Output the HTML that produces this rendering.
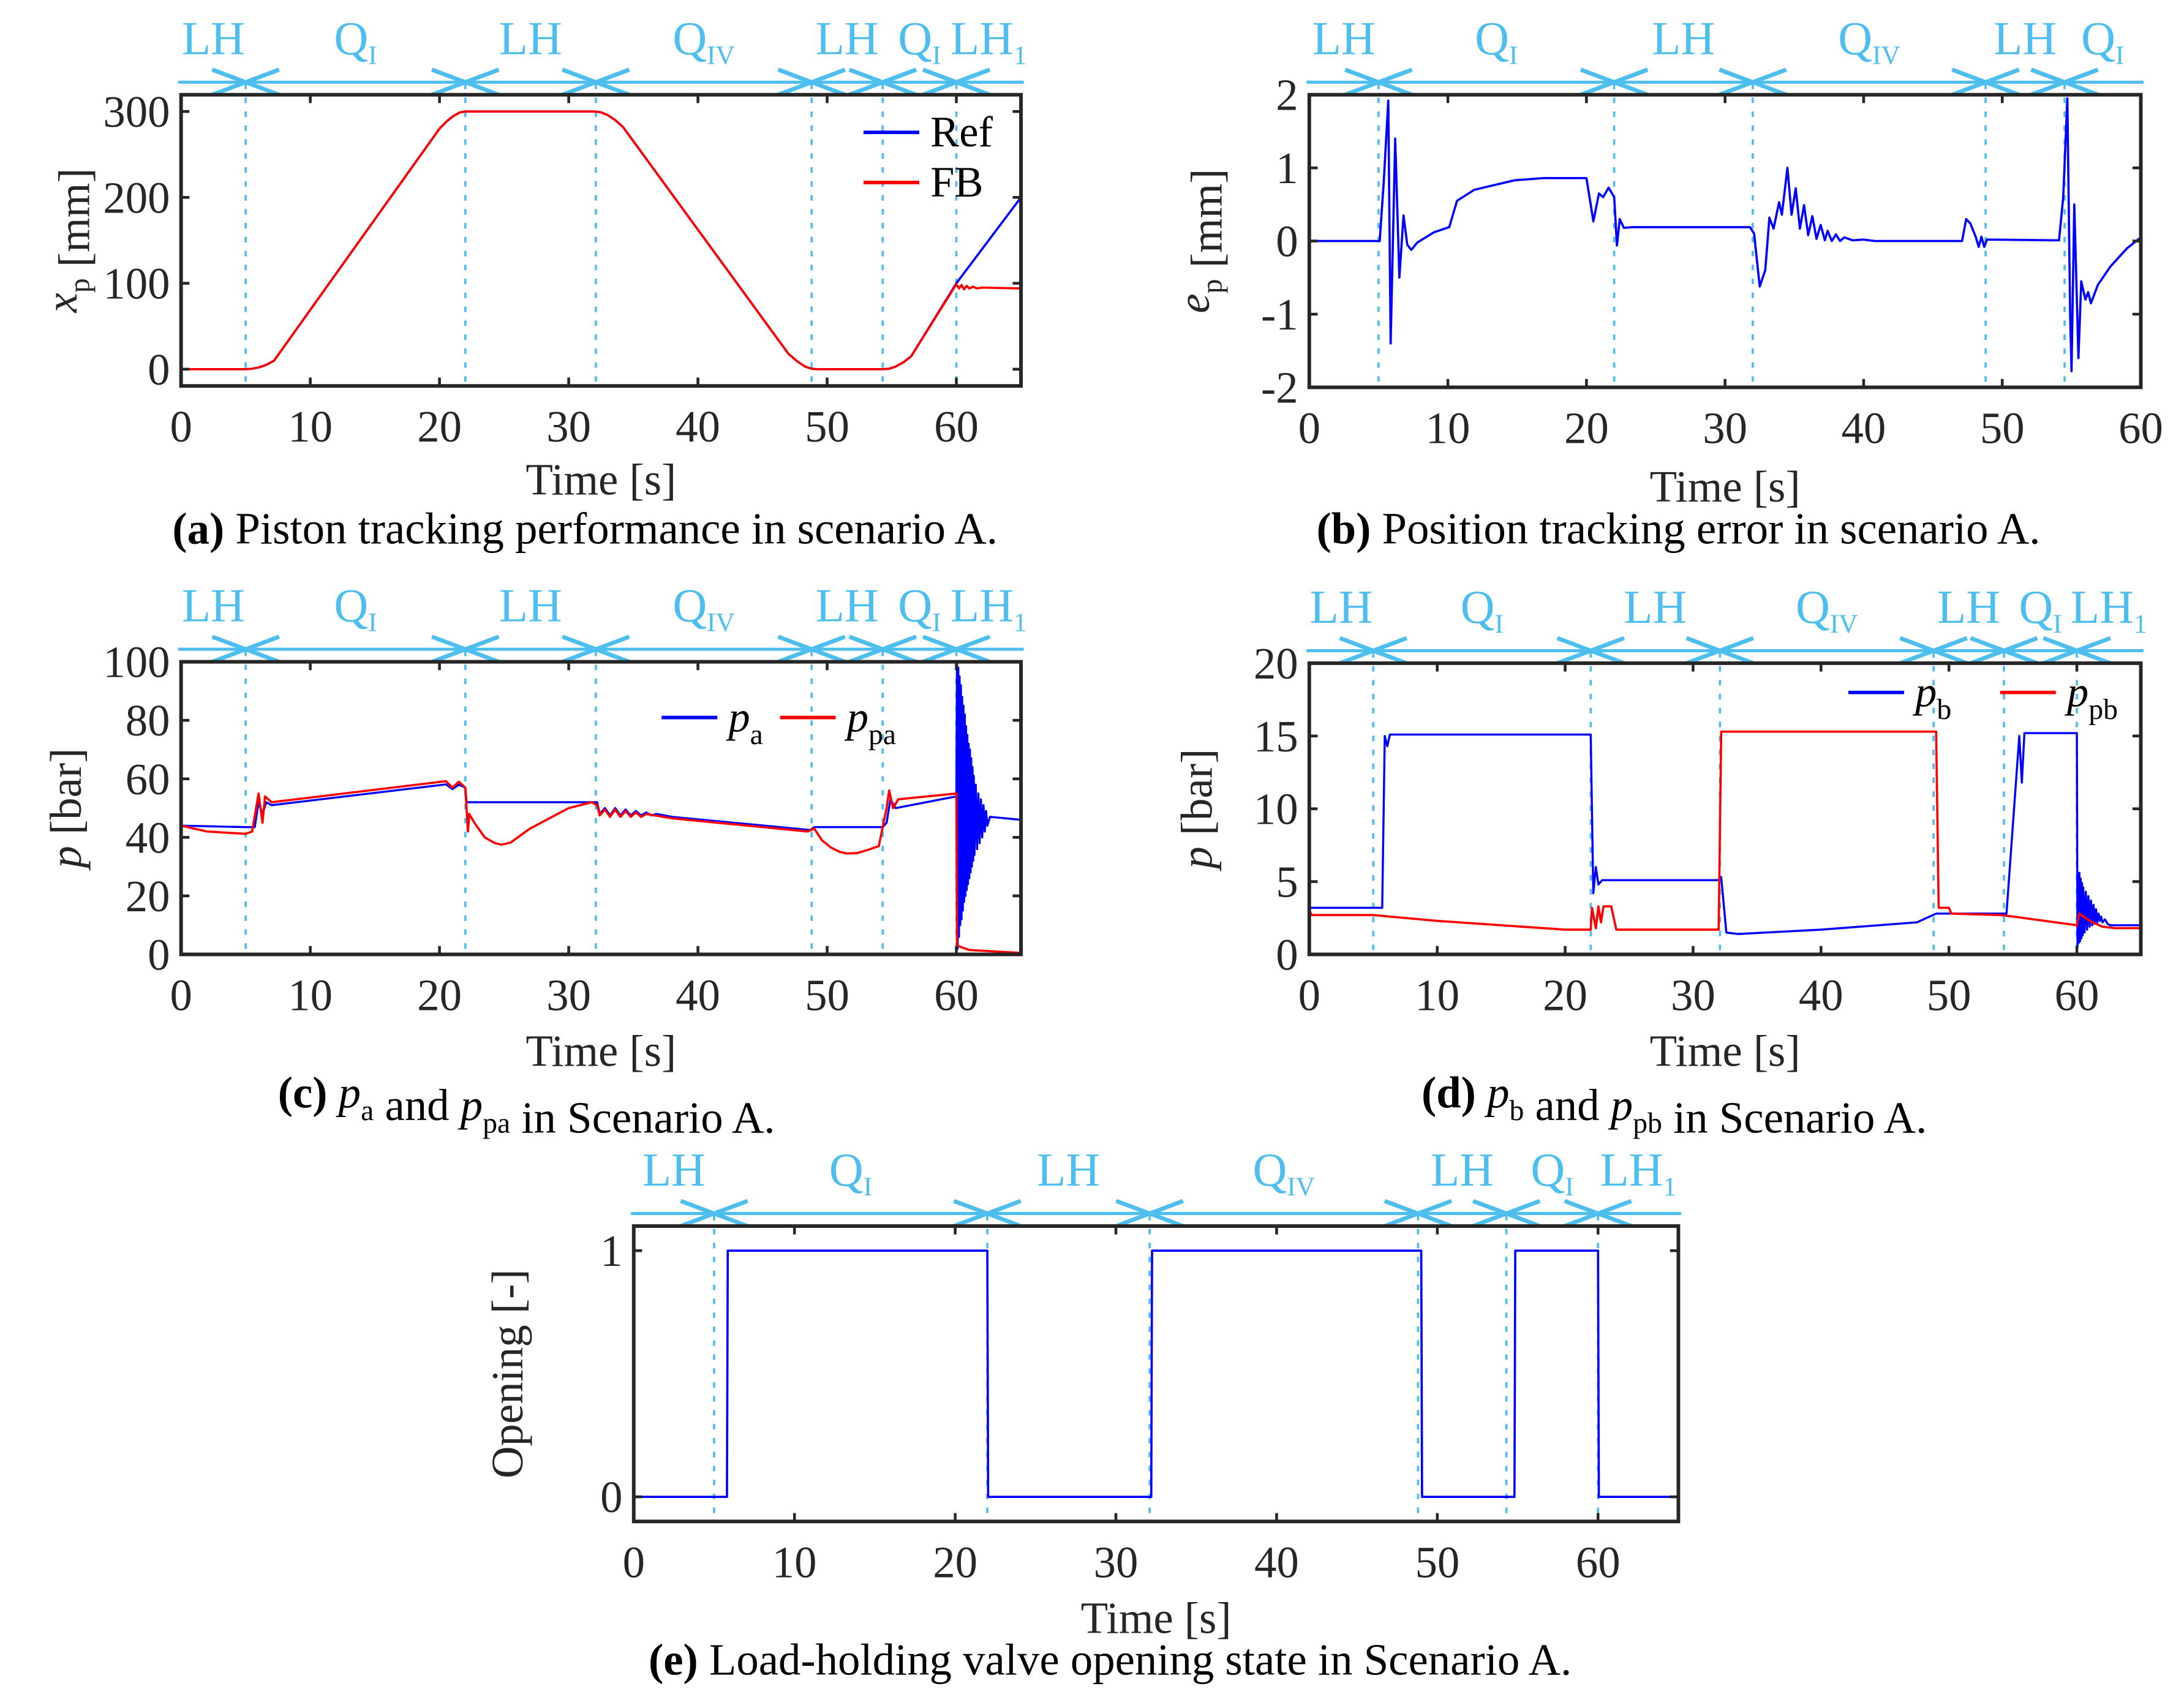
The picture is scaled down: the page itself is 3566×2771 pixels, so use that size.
<!DOCTYPE html>
<html><head><meta charset="utf-8"><style>
html,body{margin:0;padding:0;background:#fff;}
svg{display:block;}
text{font-family:"Liberation Serif",serif;}
</style></head><body>
<svg id="fig" xmlns="http://www.w3.org/2000/svg" width="3566" height="2771" viewBox="0 0 1568 1218" preserveAspectRatio="none"></svg>
<script>
// ---- shared phase data ----
var phaseTimes = [5, 22, 32.1, 48.8, 54.3, 60];
var phaseLabels = [["LH",""],["Q","I"],["LH",""],["Q","IV"],["LH",""],["Q","I"],["LH","1"]];
var phaseTimesB = [5, 22, 32, 48.8, 54.5];
var phaseLabelsB = [["LH",""],["Q","I"],["LH",""],["Q","IV"],["LH",""],["Q","I"]];

// ---- (a) piston position ----
var refT = [0,5,5.5,6,6.6,7.2,20,20.6,21.1,21.6,22,32,32.5,33,33.6,34.2,47,47.7,48.3,48.8,49.2,54.3,54.8,55.3,55.9,56.5,60,65];
var refV = [0,0,0.5,2,5,10,280,289,295,299,300,300,299,296,290,282,18,9,3,0.5,0,0,0.5,3,8,15,100,200];
var fbT = [0,5,5.5,6,6.6,7.2,20,20.6,21.1,21.6,22,32,32.5,33,33.6,34.2,47,47.7,48.3,48.8,49.2,54.3,54.8,55.3,55.9,56.5,60,60.2,60.4,60.6,60.8,61,61.3,61.6,62,65];
var fbV = [0,0,0.5,2,5,10,280,289,295,299,300,300,299,296,290,282,18,9,3,0.5,0,0,0.5,3,8,15,99,94,98,93,97,94,96,94,95,94];
var xTicksA = [0,10,20,30,40,50,60];
var yTicksA = [0,100,200,300];

// ---- (b) tracking error ----
var errT = [0,5.08,5.37,5.7,5.87,6.2,6.5,6.8,7.07,7.36,7.8,9.0,10.1,10.66,11.9,14.8,16.9,20.0,20.5,20.9,21.2,21.6,22.0,22.2,22.4,22.7,23.3,31.8,32.1,32.5,32.9,33.2,33.5,33.9,34.1,34.5,34.8,35.1,35.4,35.7,36.0,36.3,36.6,36.9,37.2,37.4,37.7,38.0,38.3,38.6,39.2,40,40.8,47.1,47.4,47.7,48.1,48.3,48.5,48.7,48.9,54.1,54.4,54.7,54.9,55.0,55.2,55.5,55.7,56.0,56.2,56.4,56.9,57.8,59.0,60];
var errV = [0,0,0.8,1.92,-1.4,1.4,-0.5,0.35,-0.05,-0.12,-0.02,0.12,0.19,0.55,0.7,0.83,0.86,0.86,0.27,0.65,0.6,0.73,0.6,-0.06,0.3,0.18,0.19,0.19,0.1,-0.62,-0.4,0.32,0.17,0.53,0.36,1.0,0.36,0.72,0.17,0.49,0.08,0.34,0.03,0.22,0.01,0.14,0,0.09,0,0.05,0.01,0.02,0,0,0.3,0.24,0.05,-0.08,0.06,-0.08,0.02,0.01,0.6,1.95,-1.0,-1.78,0.5,-1.6,-0.55,-0.8,-0.7,-0.85,-0.6,-0.35,-0.1,0.05];
var xTicksB = [0,10,20,30,40,50,60];
var yTicksB = [-2,-1,0,1,2];

// ---- (c) p_a, p_pa ----
var paT = [0,5,5.7,6.0,6.3,6.6,7,20.5,21,21.5,22,22.1,22.5,32.2,32.4,32.8,33.2,33.6,34,34.4,34.8,35.2,35.6,36,36.4,36.8,38,48.7,49,54.3,54.6,54.9,55.3,60,
 60.05,60.1,60.15,60.2,60.25,60.3,60.35,60.4,60.45,60.5,60.55,60.6,60.65,60.7,60.75,60.8,60.85,60.9,60.95,61,61.05,61.1,61.15,61.2,61.25,61.3,61.35,61.4,61.5,61.6,61.7,61.8,61.9,62,62.1,62.2,62.3,62.4,62.6,65];
var paV = [44,43.5,43.5,52,48,52,51,58.1,56.5,58,57,52,52,52,48,50,47.5,50,47.5,49.5,47.5,49,47.5,48.5,47.5,48,47,42.5,43.5,43.5,45,53,50,54,
 100,2,98,6,95,10,92,12,88,15,85,18,82,20,78,22,75,24,72,26,70,28,67,30,64,32,61,34,58,36,55,38,53,40,51,42,49,44,47,46];
var ppaT = [0,2,5,5.5,6.0,6.3,6.5,7,20.5,21,21.5,22,22.2,22.3,22.7,23.5,24.3,24.8,25.5,27,30,31.8,32.2,32.4,32.8,33.2,33.6,34,34.4,34.8,35.2,35.6,36,38,48.5,49,49.6,50.3,51,51.5,52.3,53,54,54.6,54.8,55.1,55.5,60,60.05,61,65];
var ppaV = [44,42,41.2,42,55,45,54,52,59.2,57,59,57,42,48,45,40,38,37.5,38.2,43,50,52,51,47.5,49.5,47,49.5,47,49,47,48.5,47,48,46.5,42,43,39,36.5,35,34.5,34.6,35.5,37,50,56,50,53,55,3,1.5,0.5];
var xTicksC = [0,10,20,30,40,50,60];
var yTicksC = [0,20,40,60,80,100];

// ---- (d) p_b, p_pb ----
var pbT = [0,5.7,5.9,6.1,6.3,22,22.2,22.4,22.6,22.9,32,32.2,32.6,33.5,40,47.5,48.5,49,54.5,55.5,55.7,55.9,60,
 60.05,60.1,60.15,60.2,60.25,60.3,60.35,60.4,60.45,60.5,60.6,60.7,60.8,60.9,61,61.1,61.2,61.3,61.4,61.5,61.6,61.7,61.8,61.9,62,62.2,62.4,62.6,65];
var pbV = [3.2,3.2,15,14.3,15.1,15.1,4.2,6,4.8,5.1,5.1,5.3,1.5,1.4,1.7,2.2,2.6,2.8,2.8,15,11.8,15.2,15.2,
 0.5,5.3,0.8,5.6,0.9,5.2,1.1,4.9,1.3,4.6,1.5,4.3,1.7,4.0,1.9,3.7,2.0,3.4,2.1,3.1,2.2,2.8,2.3,2.6,2.2,2.4,2.1,2.0,2.0];
var ppbT = [0,0.2,5,10,15,20,22,22.1,22.4,22.6,22.8,23,23.6,24,32,32.2,49,49.2,50,50.2,54,55,60,60.2,61,62,63,65];
var ppbV = [3.0,2.7,2.7,2.3,2.0,1.7,1.7,3.2,1.8,3.3,2.2,3.3,3.3,1.7,1.7,15.3,15.3,3.2,3.2,2.8,2.7,2.6,2.0,2.8,2.3,1.9,1.8,1.8];
var xTicksD = [0,10,20,30,40,50,60];
var yTicksD = [0,5,10,15,20];

// ---- (e) opening ----
var opT = [0,5.8,5.85,22,22.05,32.2,32.25,49,49.05,54.8,54.85,60,60.05,65];
var opV = [0,0,1,1,0,0,1,1,0,0,1,1,0,0];
var xTicksE = [0,10,20,30,40,50,60];
var yTicksE = [0,1];

var NS = "http://www.w3.org/2000/svg";
var svg = document.getElementById('fig');
function mk(tag, attrs, parent){
  var e = document.createElementNS(NS, tag);
  for (var k in attrs) e.setAttribute(k, attrs[k]);
  (parent||svg).appendChild(e);
  return e;
}
var AX = "#262626", PH = "#4DBEEE";

function makePanel(p){
  var g = mk('g', {});
  
  
  p.g = g;
  p.sx = function(t){ return p.x0 + (t - p.xmin) / (p.xmax - p.xmin) * (p.x1 - p.x0); };
  p.sy = function(v){ return p.y1 - (v - p.ymin) / (p.ymax - p.ymin) * (p.y1 - p.y0); };
  return p;
}
function drawPhases(p, times, labels){
  var g = mk('g', {}, p.g);
  
  
  var ay = p.y0 - 9;
  var line = mk('line', {x1:p.x0-2, x2:p.x1+2, y1:ay, y2:ay, stroke:PH, 'stroke-width':2.2}, g);
  
  
  var bounds = [p.x0];
  times.forEach(function(t){
    var x = p.sx(t);
    bounds.push(x);
    var dl = mk('line', {x1:x, x2:x, y1:p.y0-8, y2:p.y1, stroke:PH, 'stroke-width':1.6, 'stroke-dasharray':'4,6'}, g);
    
    
    var ah = mk('path', {d:'M'+(x-24)+','+(ay-9)+'L'+x+','+ay+'L'+(x-24)+','+(ay+9)+'M'+(x+24)+','+(ay-9)+'L'+x+','+ay+'L'+(x+24)+','+(ay+9),
      fill:'none', stroke:PH, 'stroke-width':3}, g);
    
    
  });
  bounds.push(p.x1);
  labels.forEach(function(l, i){
    var cx = (bounds[i] + bounds[i+1]) / 2;
    var t = mk('text', {x:cx, y:p.y0-29, 'text-anchor':'middle', 'font-size':34, fill:PH}, g);
    
    
    t.appendChild(document.createTextNode(l[0]));
    if (l[1]) {
      var s = mk('tspan', {'font-size':19, dy:7}, t);
      s.textContent = l[1];
    }
  });
}
function drawAxes(p, xt, yt, ylabelFn, xlabY){
  var g = mk('g', {}, p.g);
  
  
  xt.forEach(function(v){
    var x = p.sx(v);
    mk('line', {x1:x, x2:x, y1:p.y1, y2:p.y1-6, stroke:AX, 'stroke-width':2}, g);
    mk('line', {x1:x, x2:x, y1:p.y0, y2:p.y0+6, stroke:AX, 'stroke-width':2}, g);
    var t = mk('text', {x:x, y:p.y1+40, 'text-anchor':'middle', 'font-size':32, fill:AX}, g);
    
    
    t.textContent = v;
  });
  yt.forEach(function(v){
    var y = p.sy(v);
    mk('line', {x1:p.x0, x2:p.x0+6, y1:y, y2:y, stroke:AX, 'stroke-width':2}, g);
    mk('line', {x1:p.x1, x2:p.x1-6, y1:y, y2:y, stroke:AX, 'stroke-width':2}, g);
    var t = mk('text', {x:p.x0-8, y:y+11, 'text-anchor':'end', 'font-size':32, fill:AX}, g);
    
    
    t.textContent = v;
  });
  var xl = mk('text', {x:(p.x0+p.x1)/2, y:xlabY, 'text-anchor':'middle', 'font-size':32, fill:AX}, g);
  
  
  xl.textContent = 'Time [s]';
  var yl = mk('text', {transform:'translate('+p.ylx+','+((p.y0+p.y1)/2)+') rotate(-90)', 'text-anchor':'middle', 'font-size':32, fill:AX}, g);
  
  
  ylabelFn(yl);
}
function frame(p){
  var r = mk('rect', {x:p.x0, y:p.y0, width:p.x1-p.x0, height:p.y1-p.y0, fill:'none', stroke:AX, 'stroke-width':2.6}, p.g);
  
  
}
function series(p, T, V, color, name, w){
  var d = '';
  for (var i=0;i<T.length;i++){
    var v = Math.max(p.ymin, Math.min(p.ymax, V[i]));
    d += (i?'L':'M') + p.sx(T[i]).toFixed(2) + ',' + p.sy(v).toFixed(2);
  }
  var path = mk('path', {d:d, fill:'none', stroke:color, 'stroke-width':w||1.6, 'stroke-linejoin':'round'}, p.g);
  
  
}
function legendEntry(p, x, y, color, build, name){
  var g = mk('g', {}, p.g);
  
  
  mk('line', {x1:x, x2:x+40, y1:y, y2:y, stroke:color, 'stroke-width':2.5}, g);
  var t = mk('text', {x:x+48, y:y+10, 'font-size':31, fill:'#000'}, g);
  build(t);
}
function sub(t, main, s, italic){
  var a = mk('tspan', italic?{'font-style':'italic'}:{}, t); a.textContent = main;
  var b = mk('tspan', {'font-size':21, dy:9}, t); b.textContent = s;
  var c = mk('tspan', {dy:-9}, t); c.textContent = '';
}
function caption(x, y, label, build, name){
  var t = mk('text', {x:x, y:y, 'text-anchor':'middle', 'font-size':32, fill:'#000'});
  
  
  var b = mk('tspan', {'font-weight':'bold'}, t); b.textContent = label + ' ';
  build(t);
}

// Panel (a)
var A = makePanel({name:'panel-a', x0:130, x1:733, y0:68, y1:277, xmin:0, xmax:65, ymin:-19.5, ymax:319.5, ylx:55});
drawPhases(A, phaseTimes, phaseLabels);
series(A, refT, refV, '#0000ff', 'series-ref', 1.6);
series(A, fbT, fbV, '#ff0000', 'series-fb', 1.6);
frame(A);
drawAxes(A, xTicksA, yTicksA, function(t){ sub(t,'x','p',true); var r=mk('tspan',{},t); r.textContent=' [mm]'; }, 355);
legendEntry(A, 620, 95, '#0000ff', function(t){ t.textContent='Ref'; }, 'legend-ref');
legendEntry(A, 620, 131, '#ff0000', function(t){ t.textContent='FB'; }, 'legend-fb');
caption(420, 390, '(a)', function(t){ var s=mk('tspan',{},t); s.textContent='Piston tracking performance in scenario A.'; }, 'caption-a');

// Panel (b)
var B = makePanel({name:'panel-b', x0:940, x1:1537, y0:68, y1:278, xmin:0, xmax:60, ymin:-2, ymax:2, ylx:868});
drawPhases(B, phaseTimesB, phaseLabelsB);
series(B, errT, errV, '#0000ff', 'series-error', 1.6);
frame(B);
drawAxes(B, xTicksB, yTicksB, function(t){ sub(t,'e','p',true); var r=mk('tspan',{},t); r.textContent=' [mm]'; }, 360);
caption(1205, 390, '(b)', function(t){ var s=mk('tspan',{},t); s.textContent='Position tracking error in scenario A.'; }, 'caption-b');

// Panel (c)
var C = makePanel({name:'panel-c', x0:130, x1:733, y0:475, y1:685, xmin:0, xmax:65, ymin:0, ymax:100, ylx:58});
drawPhases(C, phaseTimes, phaseLabels);
series(C, paT, paV, '#0000ff', 'series-pa', 1.5);
series(C, ppaT, ppaV, '#ff0000', 'series-ppa', 1.6);
frame(C);
drawAxes(C, xTicksC, yTicksC, function(t){ var a=mk('tspan',{'font-style':'italic'},t); a.textContent='p'; var r=mk('tspan',{},t); r.textContent=' [bar]'; }, 765);
legendEntry(C, 475, 515, '#0000ff', function(t){ sub(t,'p','a',true); }, 'legend-pa');
legendEntry(C, 560, 515, '#ff0000', function(t){ sub(t,'p','pa',true); }, 'legend-ppa');
caption(378, 795, '(c)', function(t){ sub(t,'p','a',true); var r=mk('tspan',{},t); r.textContent=' and '; sub(t,'p','pa',true); var q=mk('tspan',{},t); q.textContent=' in Scenario A.'; }, 'caption-c');

// Panel (d)
var D = makePanel({name:'panel-d', x0:940, x1:1537, y0:476, y1:685, xmin:0, xmax:65, ymin:0, ymax:20, ylx:870});
drawPhases(D, phaseTimes, phaseLabels);
series(D, pbT, pbV, '#0000ff', 'series-pb', 1.5);
series(D, ppbT, ppbV, '#ff0000', 'series-ppb', 1.6);
frame(D);
drawAxes(D, xTicksD, yTicksD, function(t){ var a=mk('tspan',{'font-style':'italic'},t); a.textContent='p'; var r=mk('tspan',{},t); r.textContent=' [bar]'; }, 765);
legendEntry(D, 1327, 497, '#0000ff', function(t){ sub(t,'p','b',true); }, 'legend-pb');
legendEntry(D, 1436, 497, '#ff0000', function(t){ sub(t,'p','pb',true); }, 'legend-ppb');
caption(1202, 795, '(d)', function(t){ sub(t,'p','b',true); var r=mk('tspan',{},t); r.textContent=' and '; sub(t,'p','pb',true); var q=mk('tspan',{},t); q.textContent=' in Scenario A.'; }, 'caption-d');

// Panel (e)
var E = makePanel({name:'panel-e', x0:455, x1:1205, y0:880, y1:1092, xmin:0, xmax:65, ymin:-0.1, ymax:1.1, ylx:375});
drawPhases(E, phaseTimes, phaseLabels);
series(E, opT, opV, '#0000ff', 'series-opening', 1.6);
frame(E);
drawAxes(E, xTicksE, yTicksE, function(t){ t.textContent='Opening [-]'; }, 1172);
caption(797, 1202, '(e)', function(t){ var s=mk('tspan',{},t); s.textContent='Load-holding valve opening state in Scenario A.'; }, 'caption-e');
</script>
</body></html>
